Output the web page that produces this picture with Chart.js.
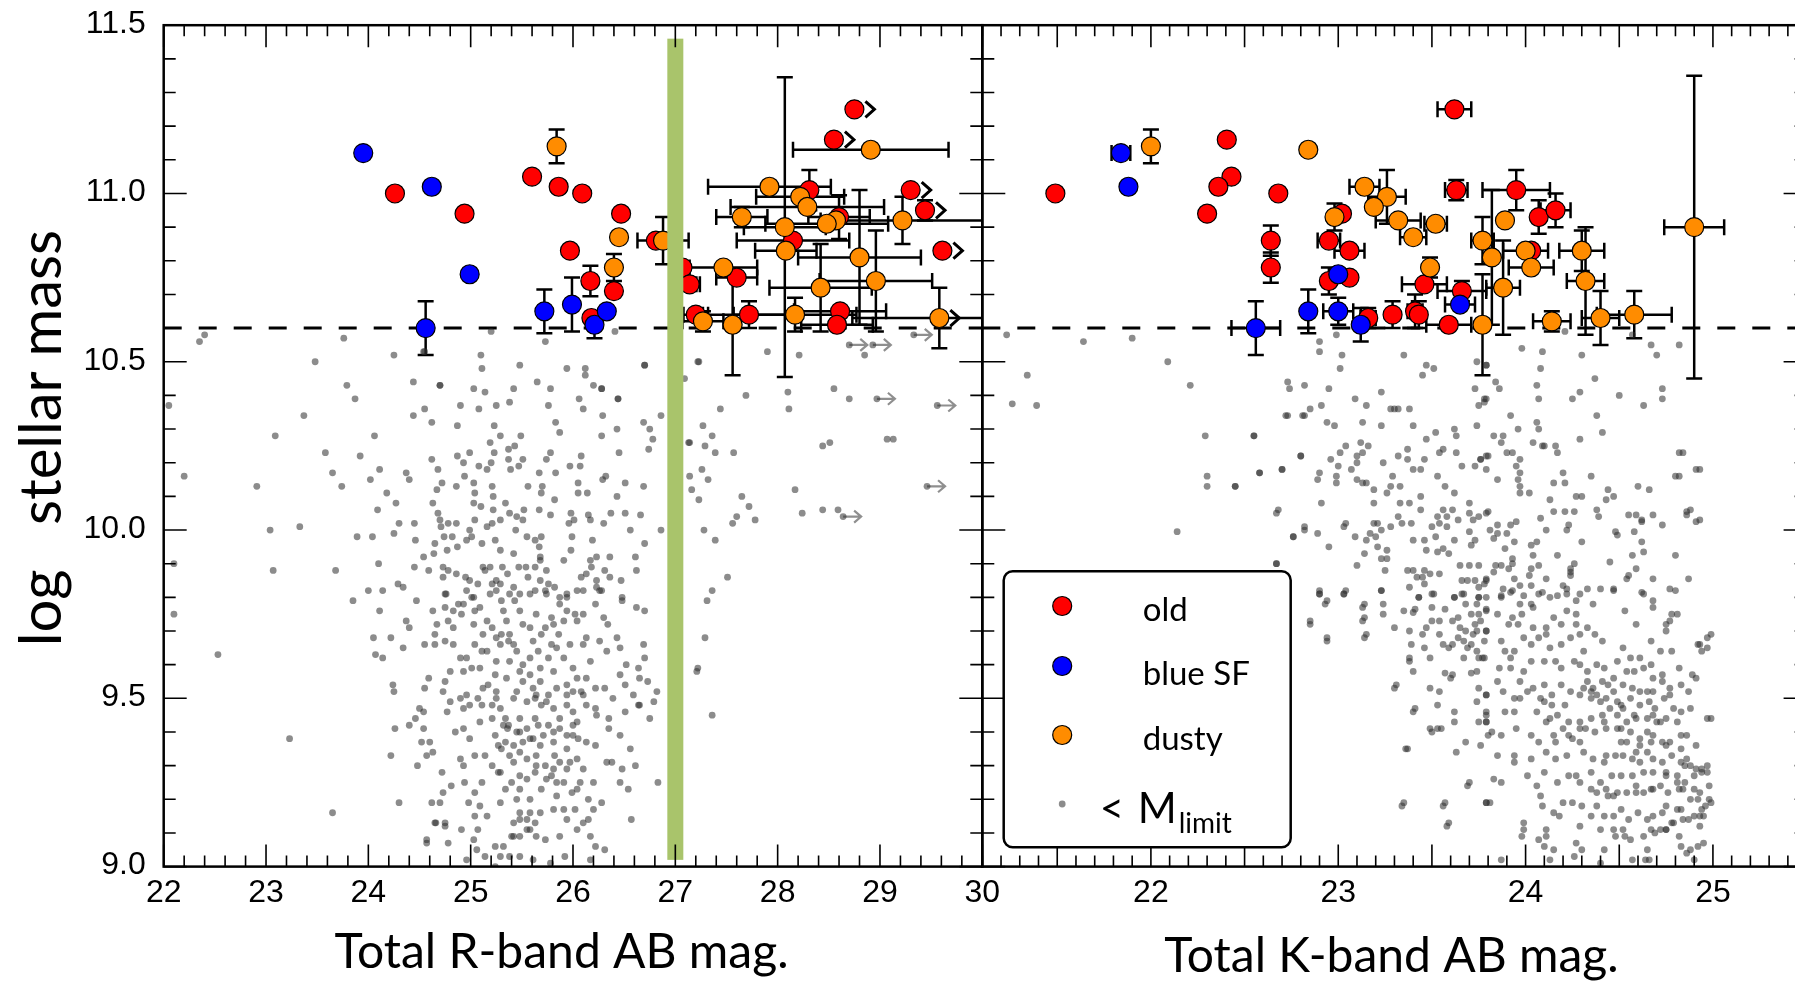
<!DOCTYPE html>
<html>
<head>
<meta charset="utf-8">
<title>stellar mass vs magnitude</title>
<script src="https://cdn.jsdelivr.net/npm/chart.js@4.4.0/dist/chart.umd.min.js"></script>
<style>
  html, body { margin: 0; padding: 0; background: #fff; overflow: hidden; }
  #wrap { position: relative; width: 1795px; height: 983px; overflow: hidden; }
  canvas { position: absolute; left: 0; top: 0; }
</style>
</head>
<body>
<div id="wrap">
  <canvas id="rband" width="1795" height="983" style="width:1795px;height:983px"></canvas>
  <canvas id="kband" width="1830" height="983" style="width:1830px;height:983px"></canvas>
</div>
<script>
// axis ticks / reference lines
const massTicks = [9.0, 9.5, 10.0, 10.5, 11.0, 11.5];
const rTicks = [22, 23, 24, 25, 26, 27, 28, 29, 30];
const kTicks = [22, 23, 24, 25];
const massLimit = 10.6;
const rCut = 27.0;
const legendLabels = ['old', 'blue SF', 'dusty'];

// [mag, logM, magErr, massErr, lowerLimit]
const oldR = [
  [24.26,11.00,0,0,0],[24.94,10.94,0,0,0],[25.60,11.05,0,0,0],[25.86,11.02,0,0.015,0],[26.09,11.00,0,0,0],
  [25.97,10.83,0,0,0],[26.17,10.74,0,0.045,0],[26.18,10.63,0,0,0],[26.40,10.71,0.05,0,0],[26.47,10.94,0,0,0],
  [26.81,10.86,0,0,0],[27.07,10.78,0,0,0],[27.14,10.73,0.1,0.02,0],[27.20,10.64,0.12,0,0],[27.60,10.75,0.2,0,0],
  [27.72,10.64,0.45,0.04,0],[28.15,10.86,0.55,0,0],[28.31,11.01,0,0.06,0],[28.60,10.93,0.3,0.065,0],
  [28.61,10.65,0.45,0,0],[28.58,10.61,0.35,0,0],[28.55,11.16,0,0,1],[28.75,11.25,0,0,1],[29.30,11.01,0,0,1],
  [29.44,10.95,0,0.03,1],[29.61,10.83,0,0,1]
];
const dustyR = [
  [25.84,11.14,0,0.05,0],[26.45,10.87,0,0,0],[26.40,10.78,0.04,0.04,0],[26.88,10.86,0.25,0.07,0],
  [27.47,10.78,0.33,0,0],[27.27,10.62,0.2,0.03,0],[27.56,10.61,0,0.15,0],[28.17,10.64,0.6,0.05,0],
  [29.58,10.63,0.85,0.09,1],[27.92,11.02,0.6,0,0],[28.22,10.99,0.43,0,0],[28.29,10.96,0.75,0,0],
  [28.57,10.92,0,0,0],[28.48,10.91,0.6,0,0],[28.07,10.90,0.4,0.445,0],[27.65,10.93,0.25,0.03,0],
  [28.08,10.83,0.3,0,0],[28.80,10.81,0.6,0.2,0],[28.96,10.74,0.55,0.15,0],[28.42,10.72,0.5,0.13,0],
  [29.22,10.92,0.8,0.07,0],[28.91,11.13,0.76,0,0]
];
const blueR = [
  [23.95,11.12,0,0,0],[24.62,11.02,0,0,0],[24.99,10.76,0,0.01,0],[24.56,10.60,0,0.08,0],
  [25.72,10.65,0,0.065,0],[25.99,10.67,0,0.08,0],[26.21,10.61,0,0.04,0],[26.33,10.65,0,0,0]
];
const oldK = [
  [21.49,11.00,0,0,0],[22.405,11.16,0,0,0],[22.43,11.05,0,0,0],[22.36,11.02,0,0,0],[22.68,11.00,0,0,0],
  [22.30,10.94,0,0,0],[23.62,11.25,0.09,0,0],[22.64,10.86,0,0.045,0],[22.64,10.78,0,0.045,0],
  [23.16,10.63,0.04,0.03,0],[22.95,10.74,0,0.04,0],[23.06,10.75,0,0,0],[22.95,10.86,0.06,0,0],
  [23.06,10.83,0.08,0,0],[23.02,10.94,0,0,0],[23.29,10.64,0,0.04,0],[23.41,10.65,0.04,0.05,0],
  [23.43,10.64,0,0.04,0],[23.46,10.73,0.12,0,0],[23.66,10.71,0.13,0.03,0],[23.59,10.61,0.12,0,0],
  [23.63,11.01,0.06,0.03,0],[23.95,11.01,0.18,0.06,0],[24.07,10.93,0,0.05,0],[24.16,10.95,0.08,0.05,0],
  [24.03,10.83,0,0,0]
];
const dustyK = [
  [22.00,11.14,0,0.05,0],[22.84,11.13,0,0,0],[22.98,10.93,0,0.04,0],[23.14,11.02,0.08,0,0],
  [23.26,10.99,0.1,0.08,0],[23.19,10.96,0,0,0],[23.32,10.92,0.12,0,0],[23.40,10.87,0.07,0,0],
  [23.52,10.91,0.06,0,0],[23.49,10.78,0,0.03,0],[23.77,10.61,0,0.15,0],[23.77,10.86,0.06,0.07,0],
  [23.82,10.81,0,0.2,0],[23.88,10.72,0.09,0.14,0],[23.89,10.92,0,0,0],[24.00,10.83,0.12,0,0],
  [24.03,10.78,0.12,0,0],[24.30,10.83,0.12,0.06,0],[24.32,10.74,0.1,0.16,0],[24.14,10.62,0.1,0.03,0],
  [24.40,10.63,0.1,0.08,0],[24.58,10.64,0.2,0.07,0],[24.90,10.90,0.16,0.45,0]
];
const blueK = [
  [21.84,11.12,0.05,0,0],[21.88,11.02,0,0,0],[22.56,10.60,0.13,0.08,0],[22.84,10.65,0,0.065,0],
  [23.00,10.65,0.08,0.04,0],[23.12,10.61,0,0.05,0],[23.00,10.76,0,0,0],[23.65,10.67,0.08,0,0]
];

// galaxies below the mass limit [mag, logM]
const faintR = [
  [25.10,10.52],[25.11,10.48],[25.48,10.49],[25.94,10.48],[26.12,10.48],[26.12,10.46],[26.70,10.49],[25.73,10.56],[25.20,10.59],[26.41,10.59],
  [24.55,10.53],[24.70,10.43],[25.03,10.42],[25.14,10.41],[25.42,10.42],[25.65,10.44],[25.78,10.42],[26.20,10.43],[26.28,10.42],[24.55,10.36],
  [24.90,10.37],[25.08,10.36],[25.25,10.37],[25.38,10.38],[25.76,10.37],[26.06,10.39],[26.10,10.36],[26.44,10.39],[24.62,10.32],[24.87,10.31],
  [25.23,10.31],[25.83,10.32],[25.87,10.29],[26.29,10.34],[26.43,10.30],[26.69,10.32],[26.75,10.30],[26.86,10.34],[25.29,10.28],[25.49,10.28],
  [25.19,10.26],[25.23,10.23],[25.37,10.24],[25.43,10.25],[26.28,10.28],[26.78,10.27],[26.74,10.24],[26.45,10.23],[24.87,10.22],[24.99,10.23],
  [24.62,10.21],[24.93,10.20],[25.08,10.19],[25.20,10.20],[25.16,10.18],[25.37,10.21],[25.39,10.18],[25.47,10.19],[25.51,10.21],[25.74,10.21],
  [25.78,10.23],[26.08,10.22],[25.97,10.19],[26.07,10.19],[25.83,10.17],[25.67,10.17],[26.29,10.15],[26.32,10.16],[24.68,10.18],[24.86,10.13],
  [24.94,10.16],[25.03,10.14],[25.04,10.11],[25.03,10.08],[25.10,10.07],[25.21,10.13],[25.22,10.10],[25.22,10.06],[25.21,10.02],[24.72,10.14],
  [24.67,10.12],[24.63,10.08],[24.68,10.05],[24.70,10.03],[24.71,10.01],[24.78,10.02],[24.86,10.02],[25.38,10.05],[25.45,10.04],[25.44,10.00],
  [25.51,10.03],[25.56,10.13],[25.70,10.13],[25.69,10.11],[25.82,10.09],[26.05,10.14],[26.05,10.11],[26.14,10.11],[26.43,10.10],[26.51,10.14],
  [26.69,10.13],[25.67,10.06],[25.78,10.045],[25.98,10.05],[26.01,10.03],[25.96,10.02],[26.15,10.045],[26.17,10.03],[26.37,10.05],[26.51,10.05],
  [26.66,10.045],[26.30,10.02],[26.56,10.00],[26.86,10.00],[25.34,10.08],[25.52,10.06],[24.99,10.00],[25.04,10.03],[25.16,10.01],[25.29,10.03],
  [24.74,9.98],[24.82,9.98],[24.96,9.97],[25.01,9.98],[24.87,9.95],[24.77,9.94],[24.64,9.93],[24.54,9.92],[24.65,9.96],[25.11,9.96],
  [25.24,9.97],[25.29,9.94],[25.42,9.93],[25.55,9.98],[25.63,9.97],[25.69,9.98],[25.67,9.95],[25.99,9.98],[25.98,9.94],[26.19,9.97],
  [26.70,9.96],[26.23,9.92],[26.36,9.92],[26.17,9.91],[26.61,9.92],[26.62,9.88],[24.73,9.89],[24.78,9.88],[24.59,9.88],[24.86,9.87],
  [24.73,9.86],[24.95,9.86],[24.99,9.85],[25.07,9.84],[25.12,9.89],[25.19,9.89],[25.14,9.88],[25.31,9.89],[25.36,9.87],[25.47,9.89],
  [25.54,9.89],[25.63,9.89],[25.74,9.88],[25.68,9.92],[25.68,9.91],[25.91,9.91],[25.25,9.85],[25.21,9.84],[25.29,9.84],[25.42,9.83],
  [25.56,9.86],[25.68,9.85],[25.76,9.84],[25.82,9.83],[25.94,9.80],[26.04,9.82],[26.08,9.86],[26.13,9.87],[26.18,9.89],[26.23,9.85],
  [26.23,9.83],[26.28,9.82],[26.31,9.88],[26.36,9.86],[26.47,9.85],[26.48,9.80],[24.76,9.81],[24.96,9.82],[25.03,9.80],[25.25,9.82],
  [25.38,9.81],[25.48,9.81],[25.63,9.82],[25.74,9.81],[25.87,9.80],
  [24.75,9.81],[24.88,9.78],[25.01,9.80],[25.09,9.77],[25.19,9.81],[25.30,9.79],[25.43,9.79],[25.58,9.81],[25.73,9.82],[25.87,9.78],
  [25.94,9.81],[26.10,9.82],[26.22,9.78],[26.26,9.82],[26.48,9.79],[26.62,9.77],[26.70,9.76],[24.63,9.76],[24.75,9.77],[25.04,9.76],
  [24.67,9.72],[24.78,9.73],[24.83,9.71],[24.91,9.75],[25.03,9.72],[25.16,9.73],[25.21,9.71],[25.35,9.73],[25.38,9.69],[25.51,9.72],
  [25.58,9.71],[25.64,9.75],[25.73,9.71],[25.81,9.72],[25.91,9.73],[25.94,9.76],[26.02,9.75],[26.10,9.75],[26.30,9.74],[26.34,9.72],
  [24.65,9.69],[25.12,9.69],[25.30,9.69],[25.69,9.69],[25.86,9.69],
  [24.55,9.66],[24.65,9.66],[24.75,9.67],[24.83,9.66],[24.90,9.62],[24.96,9.62],[25.04,9.66],[25.11,9.64],[25.16,9.64],[25.29,9.66],
  [25.37,9.67],[25.45,9.64],[25.51,9.60],[25.58,9.62],[25.66,9.64],[25.68,9.59],[25.76,9.62],[25.84,9.65],[25.91,9.62],[26.00,9.59],
  [26.10,9.66],[26.17,9.61],[26.13,9.68],[26.26,9.67],[26.33,9.64],[26.43,9.68],[26.46,9.65],[26.52,9.60],[26.64,9.59],[26.69,9.66],
  [26.70,9.62],[26.46,9.57],[26.51,9.54],[26.65,9.56],[26.73,9.55],[26.82,9.52],[24.80,9.58],[24.93,9.58],[25.09,9.59],[25.25,9.61],
  [25.38,9.61],[25.48,9.58],[24.59,9.56],[24.75,9.55],[25.01,9.59],
  [24.55,9.53],[24.73,9.52],[24.90,9.50],[24.96,9.51],[25.07,9.50],[25.17,9.54],[25.12,9.53],[25.25,9.52],[25.35,9.56],[25.45,9.52],
  [25.51,9.55],[25.61,9.53],[25.68,9.55],[25.76,9.51],[25.84,9.53],[25.94,9.54],[26.00,9.52],[26.10,9.51],[26.13,9.56],[26.22,9.53],
  [26.31,9.53],[26.39,9.50],[26.59,9.51],[26.64,9.48],[26.79,9.49],[24.50,9.47],[24.54,9.46],[24.77,9.46],[24.80,9.49],[24.93,9.47],
  [24.99,9.48],[25.11,9.48],[25.21,9.48],[25.29,9.47],[25.42,9.50],[25.55,9.49],[25.63,9.50],[25.69,9.48],[25.74,9.49],[25.81,9.47],
  [25.94,9.48],[26.00,9.46],[26.08,9.52],[26.13,9.48],[26.22,9.47],[26.35,9.44],[26.51,9.46],[26.65,9.48],[26.75,9.44],
  [24.54,9.41],[24.60,9.37],[24.63,9.34],[24.85,9.40],[24.93,9.41],[24.99,9.38],[25.09,9.43],[25.21,9.44],[25.24,9.39],[25.32,9.42],
  [25.36,9.41],[25.34,9.37],[25.42,9.36],[25.48,9.40],[25.55,9.41],[25.58,9.38],[25.66,9.42],[25.71,9.39],[25.76,9.42],[25.81,9.37],
  [25.87,9.41],[25.94,9.39],[26.00,9.42],[26.05,9.38],[26.13,9.37],[26.22,9.36],[26.23,9.45],[26.35,9.41],[26.46,9.39],[26.56,9.35],
  [24.57,9.33],[24.72,9.28],[24.90,9.32],[24.93,9.30],[25.04,9.33],[25.14,9.33],[25.21,9.30],[25.30,9.35],[25.38,9.33],[25.48,9.34],
  [25.55,9.32],[25.64,9.33],[25.73,9.30],[25.82,9.33],[25.87,9.31],[25.94,9.29],[26.04,9.32],[26.10,9.29],[26.33,9.31],[26.38,9.31],
  [26.48,9.29],[26.61,9.30],
  [24.73,9.22],[24.81,9.24],[24.94,9.25],[25.04,9.22],[25.11,9.25],[25.27,9.28],[25.34,9.23],[25.40,9.25],[25.48,9.23],[25.55,9.26],
  [25.63,9.28],[25.69,9.23],[25.79,9.27],[25.84,9.25],[25.99,9.22],[26.07,9.25],[26.20,9.25],[26.28,9.19],[26.46,9.25],[26.54,9.23],
  [26.83,9.25],[24.62,9.19],[24.70,9.19],[24.98,9.19],[25.09,9.18],[25.29,9.19],[25.48,9.16],[25.58,9.16],[25.68,9.16],[25.81,9.17],
  [25.91,9.17],[26.02,9.17],[26.15,9.20],[26.20,9.17],[25.04,9.15],[25.16,9.15],[25.42,9.13],[25.55,9.14],[25.63,9.13],[25.94,9.14],
  [26.10,9.13],[26.15,9.14],[26.57,9.14],[24.65,9.13],[24.75,9.12],
  [24.57,9.07],[24.78,9.07],[24.91,9.11],[25.03,9.08],[25.07,9.11],[25.24,9.06],[25.32,9.06],[25.40,9.09],[25.48,9.09],[25.55,9.11],
  [25.64,9.09],[25.73,9.08],[25.87,9.09],[26.04,9.11],[26.17,9.09],[26.22,9.06],[26.31,9.05],[25.14,9.03],[25.29,9.03],[25.38,9.03],
  [25.48,9.03],[25.61,9.02],[25.78,9.01],[25.92,9.03],[26.17,9.02],[25.06,9.05],[24.96,9.02],[25.24,9.00],
  [24.93,9.78],[24.83,9.76],[25.32,9.76],[25.48,9.76],[25.79,9.74],[26.04,9.73],[25.25,9.68],[25.42,9.66],[25.61,9.67],[25.79,9.66],
  [25.97,9.66],[25.24,9.57],[25.58,9.57],[25.81,9.58],[26.04,9.56],[25.64,9.51],[25.94,9.51],[25.25,9.50],[25.34,9.44],[25.48,9.44],
  [25.63,9.44],[25.87,9.44],[26.04,9.43],[25.37,9.42],[25.45,9.40],[25.61,9.38],[25.81,9.40],[26.00,9.39],[25.27,9.36],[25.51,9.37],
  [25.68,9.36],[25.94,9.35],[25.42,9.31],[25.64,9.30],[25.81,9.29],[25.97,9.31],[25.29,9.28],[25.48,9.27],[25.74,9.26],[25.91,9.25],
  [26.04,9.23],[25.45,9.20],[25.58,9.20],[25.84,9.21],[25.48,9.14],[25.58,9.11],[25.42,9.09],
  [22.05,10.37],[22.20,10.16],[22.10,9.90],[22.10,9.75],[22.53,9.63],[22.91,10.13],[23.09,10.28],[23.04,10.00],[23.07,9.88],[23.23,9.38],
  [23.33,10.01],[23.37,10.34],[23.58,10.23],[23.65,10.17],[23.74,10.13],[23.68,9.88],[23.65,9.16],[23.85,9.79],[23.92,10.22],[23.89,9.98],
  [24.02,10.15],[24.06,10.28],[24.11,10.18],[24.09,10.06],[24.04,9.98],[24.00,9.82],[24.11,9.76],[24.10,9.90],[24.05,9.68],[24.07,9.63],
  [24.14,9.62],[24.14,9.82],[24.18,10.11],[24.22,9.68],[24.24,9.54],[24.25,9.52],[24.26,9.41],[24.22,9.33],[24.30,9.19],[24.27,10.08],
  [24.25,9.99],[24.30,10.02],[24.29,9.84],[24.34,9.83],[24.37,9.73],[24.34,9.65],[24.40,9.71],[24.40,10.15],[24.37,10.17],[24.44,10.34],
  [24.45,10.02],[24.46,9.97],[24.45,9.89],[24.47,9.79],[24.40,9.42],[24.46,9.44],[24.48,9.30],[24.52,9.37],[24.57,9.08],[24.66,9.13],
  [24.75,9.13],[22.35,10.56],[22.40,10.58],[23.76,10.57],[23.48,10.50],[24.25,10.52],[23.79,10.43],[24.44,10.44],[24.70,10.43],[23.87,10.39],
  [24.54,10.53],
  [27.09,10.45],[27.14,10.26],[27.14,10.16],[27.16,10.12],[27.22,10.50],[27.21,9.58],
  [27.27,10.31],[27.36,10.28],[27.29,10.25],[27.39,10.23],[27.13,10.26],[27.57,10.23],[27.44,10.36],[27.26,10.18],[27.32,10.15],[27.23,10.09],
  [27.65,10.10],[27.72,10.07],[27.60,10.04],[27.56,10.02],[27.78,10.03],[27.28,10.00],[27.39,9.97],[27.51,9.86],[27.36,9.82],[27.31,9.79],
  [27.29,9.68],[27.22,9.59],[27.36,9.45],[28.11,10.36],[28.17,10.12],[28.24,10.05],[28.44,10.06],[28.44,10.25],[28.51,10.26],[29.07,10.27],
  [29.13,10.27],[28.70,10.39],[28.59,10.06],[26.70,10.49],[27.23,10.50],[27.90,10.53],[28.21,10.52],[28.85,10.52],[27.69,10.40],[28.10,10.41],
  [28.55,10.42],[26.28,10.42],[26.44,10.39]
];
const faintRLimits = [[28.70,10.55],[28.93,10.55],[29.33,10.58],[28.97,10.39],[29.56,10.37],[29.46,10.13],[28.64,10.04]];

const faintK = [
  [22.99,10.58],[22.90,10.56],[22.90,10.53],[23.02,10.52],[23.01,10.48],[23.35,10.52],[23.47,10.49],[23.51,10.48],[23.45,10.46],[23.74,10.50],
  [23.79,10.49],[22.73,10.44],[22.74,10.42],[22.82,10.43],[22.95,10.42],[23.23,10.41],[23.09,10.39],[23.15,10.37],[23.30,10.36],[23.32,10.36],
  [23.28,10.36],[23.38,10.36],[23.73,10.42],[23.79,10.39],[23.75,10.37],[22.85,10.36],[22.91,10.37],[22.72,10.34],[22.81,10.34],[22.94,10.32],
  [22.98,10.31],[23.13,10.32],[23.23,10.31],[23.40,10.31],[23.62,10.30],[23.63,10.28],[23.52,10.29],[23.74,10.31],[23.47,10.27],[22.55,10.28],
  [23.04,10.25],[23.12,10.26],[23.16,10.25],[23.01,10.23],[23.13,10.23],[23.10,10.22],[23.10,10.20],[22.96,10.21],[22.80,10.22],[23.00,10.19],
  [23.07,10.18],[23.24,10.20],[23.32,10.22],[23.37,10.24],[23.37,10.21],[23.40,10.18],[23.44,10.18],[23.46,10.21],[23.54,10.23],[23.56,10.24],
  [23.63,10.23],[23.66,10.19],[23.73,10.19],[23.76,10.21],[23.79,10.22],[22.58,10.17],[22.70,10.18],[22.45,10.13],[22.90,10.17],[22.89,10.15],
  [22.99,10.16],[22.99,10.14],[23.10,10.15],[23.13,10.14],[23.15,10.14],[23.19,10.12],[23.26,10.11],[23.29,10.16],[23.28,10.13],[23.33,10.13],
  [23.53,10.16],[23.57,10.13],[23.62,10.11],[23.61,10.06],[23.44,10.10],[23.44,10.06],[23.33,10.08],[23.38,10.08],[23.19,10.08],[22.91,10.08],
  [22.67,10.05],[23.19,10.02],[23.21,10.02],[23.23,10.00],[23.28,10.01],[23.32,10.04],[23.34,10.02],[23.39,10.02],[23.50,10.01],[23.54,10.02],
  [23.53,10.04],[23.56,10.06],[23.58,10.04],[23.58,10.01],[23.64,10.03],[23.70,10.08],[23.70,10.05],[23.75,10.04],[23.72,10.03],[23.79,10.05],
  [23.70,9.995],[22.82,10.00],[23.03,10.01],[22.76,9.98],[22.89,9.99],[22.95,9.95],[23.09,9.98],[23.17,9.99],[23.15,9.97],[23.20,9.98],
  [23.21,9.95],[23.26,9.94],[23.40,9.97],[23.46,9.97],[23.47,9.94],[23.52,9.98],[23.53,9.935],[23.56,9.945],[23.59,9.93],[23.62,9.97],
  [23.71,9.955],[23.73,9.97],[23.14,9.93],[23.23,9.915],[23.26,9.915],[22.67,9.90],[23.10,9.895],[23.25,9.88],[23.37,9.88],[23.40,9.88],
  [23.42,9.86],[23.45,9.86],[23.46,9.88],[23.49,9.87],[23.46,9.84],[23.54,9.87],[23.65,9.895],[23.70,9.895],[23.75,9.895],[23.66,9.85],
  [23.69,9.85],[23.73,9.85],[23.75,9.83],[23.79,9.85],[23.38,9.83],[23.23,9.82],[22.90,9.81],[23.03,9.81],[23.43,9.80],[23.51,9.81],
  [23.62,9.80],[23.67,9.81],[23.75,9.80],
  [24.21,10.59],[23.98,10.54],[24.09,10.53],[24.30,10.52],[24.67,10.55],[24.70,10.52],[24.82,10.55],[24.57,10.58],[23.79,10.49],[24.08,10.48],
  [23.84,10.44],[23.86,10.42],[24.06,10.43],[24.37,10.45],[24.29,10.41],[24.25,10.39],[24.07,10.39],[24.50,10.40],[24.73,10.42],[24.73,10.39],
  [24.63,10.37],[23.78,10.39],[23.78,10.38],[23.92,10.34],[24.38,10.34],[23.96,10.30],[24.06,10.32],[24.07,10.30],[24.41,10.29],[24.29,10.27],
  [23.83,10.28],[23.88,10.28],[23.87,10.26],[24.04,10.26],[24.09,10.25],[24.10,10.25],[24.16,10.25],[24.17,10.23],[23.90,10.23],[23.93,10.23],
  [23.80,10.22],[24.82,10.23],[23.76,10.21],[23.97,10.21],[23.95,10.19],[23.79,10.18],[24.91,10.18],[23.97,10.17],[24.20,10.17],[24.35,10.16],
  [24.80,10.16],[23.85,10.15],[23.96,10.15],[24.15,10.14],[24.21,10.14],[23.97,10.13],[23.97,10.11],[24.02,10.11],[24.60,10.13],[24.66,10.12],
  [24.44,10.12],[24.47,10.10],[24.43,10.09],[24.27,10.10],[24.30,10.10],[24.13,10.09],[24.38,10.06],[24.39,10.04],[23.80,10.055],[24.15,10.055],
  [24.21,10.055],[24.26,10.055],[24.55,10.045],[24.59,10.045],[24.62,10.03],[24.62,10.025],[24.68,10.045],[24.73,10.015],[24.86,10.055],[24.86,10.045],
  [24.91,10.025],[24.08,10.035],[24.11,10.00],[23.95,10.025],[23.92,10.015],[23.90,9.99],[23.85,10.015],[23.81,10.00],[23.85,9.99],[23.83,9.975],
  [23.94,9.965],[23.89,9.945],[24.06,9.965],[24.03,9.955],[24.23,10.015],[24.22,10.00],[24.48,9.995],[24.49,9.985],[24.58,9.995],[24.30,9.965],
  [24.62,9.965],[24.63,9.935],[24.57,9.925],[24.80,9.925],[24.17,9.925],[24.04,9.925],[23.93,9.915],[23.93,9.90],[24.07,9.895],[24.03,9.885],
  [24.26,9.90],[24.24,9.885],[24.24,9.875],[24.24,9.865],[24.45,9.905],[24.59,9.885],[23.84,9.895],[23.87,9.895],[23.91,9.885],[23.83,9.875],
  [23.79,9.855],[23.78,9.84],[24.02,9.865],[23.94,9.855],[23.97,9.835],[24.03,9.835],[24.11,9.855],[24.20,9.835],[24.22,9.825],[24.33,9.825],
  [24.40,9.825],[24.47,9.825],[24.54,9.855],[24.55,9.865],[24.68,9.855],[24.62,9.815],[24.77,9.825],[24.87,9.855],[23.88,9.825],[23.92,9.815],
  [23.87,9.805],[23.99,9.805],[24.09,9.815],[24.17,9.805],
  [22.90,9.81],[23.03,9.81],[23.23,9.82],[22.93,9.78],[22.85,9.72],[22.94,9.67],[23.13,9.77],[23.13,9.73],[23.14,9.68],[23.24,9.78],
  [23.24,9.75],[23.30,9.71],[23.35,9.76],[23.40,9.755],[23.41,9.765],[23.43,9.80],[23.50,9.81],[23.50,9.77],[23.57,9.765],[23.62,9.80],
  [23.66,9.81],[23.68,9.78],[23.75,9.80],[23.74,9.78],[23.71,9.75],[23.75,9.75],[23.79,9.765],[23.38,9.70],[23.45,9.69],[23.47,9.71],
  [23.50,9.73],[23.54,9.73],[23.54,9.69],[23.61,9.73],[23.64,9.74],[23.65,9.71],[23.68,9.70],[23.73,9.72],[23.72,9.69],[23.74,9.70],
  [23.79,9.70],[23.39,9.66],[23.46,9.65],[23.56,9.66],[23.59,9.65],[23.61,9.66],[23.64,9.68],[23.67,9.67],[23.69,9.65],[23.71,9.66],
  [23.74,9.64],[23.78,9.67],[23.75,9.62],[23.77,9.62],[23.38,9.62],[23.38,9.61],[23.49,9.62],[23.67,9.62],[23.40,9.58],[23.57,9.575],
  [23.61,9.57],[23.60,9.56],[23.71,9.575],[23.74,9.58],[23.30,9.53],[23.49,9.53],[23.54,9.52],[23.53,9.48],[23.40,9.46],[23.75,9.53],
  [23.79,9.51],[23.74,9.49],[23.79,9.45],[23.75,9.43],[23.79,9.43],[23.80,9.39],[23.62,9.46],[23.62,9.43],[23.50,9.40],[23.53,9.41],
  [23.68,9.37],[23.76,9.36],[23.63,9.34],[23.36,9.35],[23.69,9.24],[23.79,9.19],[23.34,9.18],[23.56,9.18],[23.58,9.12],
  [23.79,9.80],[23.87,9.80],[23.93,9.82],[23.97,9.78],[24.03,9.78],[24.07,9.81],[24.13,9.80],[24.22,9.81],[24.27,9.79],[24.29,9.81],
  [24.36,9.78],[24.47,9.82],[24.53,9.76],[24.63,9.81],[24.68,9.77],[24.68,9.79],[24.78,9.75],[23.79,9.76],[23.85,9.75],[23.93,9.74],
  [23.98,9.75],[24.04,9.77],[24.15,9.74],[24.22,9.76],[24.27,9.75],[24.59,9.72],[24.75,9.72],[24.75,9.70],[23.91,9.72],[23.96,9.72],
  [24.04,9.71],[24.11,9.71],[24.19,9.72],[24.27,9.72],[24.33,9.71],[24.37,9.69],[23.76,9.73],
  [23.79,9.70],[23.87,9.67],[23.89,9.64],[23.94,9.64],[23.99,9.68],[24.03,9.66],[24.07,9.68],[24.11,9.69],[24.13,9.65],[24.19,9.66],
  [24.24,9.68],[24.29,9.69],[24.31,9.64],[24.41,9.67],[24.49,9.61],[24.52,9.65],[24.56,9.62],[24.61,9.62],[24.67,9.67],[24.72,9.64],
  [24.78,9.64],[24.92,9.66],[24.94,9.64],[24.97,9.68],[23.78,9.62],[23.86,9.59],[23.92,9.59],[23.99,9.58],[24.03,9.61],[24.10,9.61],
  [24.16,9.61],[24.26,9.61],[24.29,9.60],[24.38,9.60],[24.42,9.59],[24.58,9.58],[24.63,9.59],[24.67,9.60],[24.73,9.57],[24.82,9.59],
  [24.91,9.56],[23.79,9.51],
  [23.85,9.55],[23.88,9.52],[23.94,9.50],[23.97,9.50],[24.04,9.53],[24.10,9.54],[24.14,9.51],[24.19,9.54],[24.24,9.52],[24.21,9.48],
  [24.14,9.48],[24.08,9.50],[24.33,9.55],[24.36,9.53],[24.41,9.55],[24.44,9.54],[24.47,9.52],[24.52,9.54],[24.57,9.53],[24.61,9.52],
  [24.65,9.52],[24.68,9.52],[24.73,9.55],[24.77,9.51],[24.83,9.54],[24.87,9.52],[24.29,9.51],[24.35,9.50],[24.40,9.49],[24.45,9.47],
  [24.51,9.48],[24.56,9.50],[24.61,9.48],[24.66,9.49],[24.69,9.47],[24.74,9.50],[24.79,9.47],[24.83,9.46],[23.79,9.46],[23.89,9.46],
  [23.94,9.46],[24.06,9.46],[24.11,9.43],[24.17,9.45],[24.23,9.43],[24.29,9.43],[24.35,9.44],[24.41,9.45],[24.49,9.45],[24.54,9.43],
  [24.59,9.44],[24.65,9.44],[24.70,9.43],[24.75,9.44],[24.81,9.43],[24.88,9.47],[24.97,9.44],[23.79,9.43],[23.82,9.40],
  [23.87,9.39],[23.95,9.41],[24.03,9.39],[24.07,9.37],[24.15,9.39],[24.16,9.37],[24.23,9.39],[24.25,9.38],[24.29,9.37],[24.32,9.41],
  [24.37,9.40],[24.43,9.41],[24.49,9.41],[24.51,9.37],[24.54,9.37],[24.59,9.34],[24.61,9.38],[24.65,9.40],[24.68,9.39],[24.73,9.37],
  [24.77,9.37],[24.83,9.39],[24.86,9.39],[24.91,9.36],[23.85,9.33],[23.94,9.33],[23.94,9.31],[24.03,9.32],[24.11,9.34],[24.16,9.32],
  [24.22,9.33],[24.31,9.34],[24.36,9.32],[24.42,9.31],[24.43,9.33],[24.48,9.33],[24.52,9.33],[24.57,9.32],[24.61,9.31],[24.65,9.34],
  [24.68,9.32],[24.73,9.31],[24.78,9.33],[24.83,9.31],[24.88,9.30],[24.97,9.30],[23.83,9.26],[23.87,9.25],[24.01,9.27],[24.10,9.28],
  [24.17,9.25],[24.23,9.27],[24.27,9.27],[24.29,9.25],[24.35,9.28],[24.40,9.25],[24.46,9.27],[24.51,9.27],[24.57,9.27],[24.63,9.28],
  [24.68,9.28],[24.75,9.28],[24.81,9.27],[24.85,9.30],[24.90,9.27],[24.94,9.28],[24.97,9.28],
  [23.79,9.19],[23.81,9.19],[24.06,9.24],[24.08,9.21],[24.09,9.18],[24.15,9.16],[24.20,9.19],[24.25,9.19],[24.30,9.18],[24.35,9.23],
  [24.38,9.22],[24.43,9.23],[24.44,9.21],[24.49,9.22],[24.54,9.22],[24.59,9.24],[24.63,9.22],[24.67,9.23],[24.72,9.24],[24.76,9.22],
  [24.82,9.23],[24.85,9.25],[24.88,9.20],[24.92,9.20],[24.94,9.17],[24.96,9.18],[24.18,9.15],[24.29,9.12],[24.35,9.15],[24.42,9.15],
  [24.47,9.15],[24.51,9.17],[24.55,9.14],[24.60,9.16],[24.65,9.14],[24.68,9.15],[24.73,9.16],[24.78,9.13],[24.81,9.17],[24.84,9.14],
  [24.87,9.14],[24.93,9.15],[24.93,9.12],[24.72,9.11],[24.75,9.11],[24.52,9.11],[24.40,9.11],
  [23.99,9.13],[23.99,9.11],[23.98,9.09],[24.07,9.08],[24.11,9.11],[24.11,9.09],[24.10,9.06],[24.15,9.05],[24.13,9.02],[24.27,9.07],
  [24.30,9.05],[24.42,9.05],[24.47,9.11],[24.48,9.09],[24.53,9.09],[24.56,9.08],[24.63,9.09],[24.67,9.11],[24.65,9.05],[24.69,9.10],
  [24.75,9.11],[24.79,9.13],[24.82,9.09],[24.83,9.06],[24.86,9.04],[24.90,9.02],[24.92,9.06],[24.57,9.02],[24.64,9.02],[24.40,9.01],
  [24.26,9.03],[23.87,9.02],
  [24.31,9.53],[24.35,9.52],[24.38,9.51],[24.43,9.50],[24.49,9.49],[24.52,9.47],[24.58,9.45],[24.68,9.45],[24.72,9.43],[24.42,9.43],
  [24.51,9.41],[24.56,9.40],[24.61,9.36],[24.67,9.37],[24.75,9.36],[24.83,9.35],[24.86,9.32],[24.91,9.29],[24.75,9.27],[24.81,9.25],
  [24.84,9.23],[24.90,9.23],[24.93,9.22],[24.68,9.23],[24.59,9.22],[24.47,9.21],[24.38,9.18],[24.75,9.18],[24.83,9.17],[24.90,9.15],
  [24.29,9.41],[24.20,9.41],[24.13,9.44],[24.10,9.49],[24.01,9.52],[23.97,9.55],[23.92,9.62],[24.19,9.59],[24.33,9.58],[24.47,9.56],
  [24.54,9.58],[24.68,9.56],[24.77,9.53],
  [21.23,10.58],[21.64,10.56],[21.90,10.57],[22.09,10.50],[21.34,10.46],[22.21,10.43],[21.26,10.375],[21.39,10.37],[22.14,9.995],
  [22.29,10.28],[22.30,10.16],[22.30,10.13],[22.45,10.13],[22.55,10.28],[22.58,10.17],[22.68,10.06],[22.67,9.90],[22.70,10.18],[22.73,10.34],
  [22.76,9.98],[22.80,10.22],[22.82,10.34],[22.82,10.01],[22.85,9.73],[22.90,9.82],[22.94,9.79],[22.94,9.68],[23.04,9.82],[23.04,10.02],
  [23.15,9.69],[23.14,9.78],[23.14,9.74],[23.31,9.54],[23.35,9.19],[23.37,9.35],[23.41,9.47],[23.55,9.41],[23.49,9.41],[23.59,9.13],
  [23.70,9.25],[23.57,9.19],
  [24.82,10.16],[24.84,10.23],[24.93,10.18],[24.93,10.03],[24.88,10.06],[24.80,9.82],[24.81,9.75],[24.77,9.73],[24.93,9.66],[24.97,9.65],
  [24.99,9.69],[24.89,9.57],[24.99,9.44],[24.94,9.29],[24.98,9.24],[24.98,9.20],[24.99,9.19],[24.95,9.15],[24.95,9.07],[24.88,9.05],
  [24.66,9.02]
];

const colours = { old: '#ff0000', blue: '#0000ff', dusty: '#ff8c00', faint: 'rgba(45,45,45,0.55)' };
const textFont = 'Lato, "Open Sans", sans-serif';
const tickFont = '32px "Liberation Sans", Arial, sans-serif';

const pts = rows => rows.map(p => ({ x: p[0], y: p[1] }));

function bigSet(rows, colour) {
  return {
    data: pts(rows),
    pointRadius: 9.5,
    pointBackgroundColor: colour,
    pointBorderColor: '#000',
    pointBorderWidth: 1.2,
    backgroundColor: colour,
    borderColor: '#000'
  };
}

function faintSet(rows) {
  return {
    data: pts(rows),
    pointRadius: 3.4,
    pointBackgroundColor: colours.faint,
    pointBorderWidth: 0,
    backgroundColor: colours.faint
  };
}

function dot(ctx, x, y, r, fill, lw) {
  ctx.beginPath();
  ctx.arc(x, y, r, 0, Math.PI * 2);
  ctx.fillStyle = fill;
  ctx.fill();
  if (lw) { ctx.lineWidth = lw; ctx.strokeStyle = '#000'; ctx.stroke(); }
}

function makePanel(cfg) {
  return {
    id: 'panel' + cfg.name,
    beforeDatasetsDraw(chart) {
      const { ctx, chartArea: a } = chart;
      const xs = chart.scales.x, ys = chart.scales.y;
      ctx.save();
      ctx.beginPath();
      ctx.rect(a.left, a.top, a.right - a.left, a.bottom - a.top);
      ctx.clip();

      // mass limit line
      const yl = ys.getPixelForValue(massLimit);
      ctx.strokeStyle = '#000';
      ctx.lineWidth = 3;
      ctx.setLineDash([18, 17]);
      ctx.beginPath();
      ctx.moveTo(a.left, yl);
      ctx.lineTo(a.right, yl);
      ctx.stroke();
      ctx.setLineDash([]);

      // grey lower limits
      ctx.strokeStyle = '#8f8f8f';
      ctx.lineWidth = 2.2;
      cfg.faintLimits.forEach(p => {
        const px = xs.getPixelForValue(p[0]), py = ys.getPixelForValue(p[1]);
        ctx.beginPath();
        ctx.moveTo(px, py); ctx.lineTo(px + 18, py);
        ctx.moveTo(px + 11, py - 6); ctx.lineTo(px + 18, py); ctx.lineTo(px + 11, py + 6);
        ctx.stroke();
      });

      // error bars and limits of the massive galaxies
      ctx.strokeStyle = '#000';
      cfg.groups.forEach(rows => rows.forEach(p => {
        const [m, s, dm, dsErr, lim] = p;
        const px = xs.getPixelForValue(m), py = ys.getPixelForValue(s);
        ctx.lineWidth = 2.5;
        ctx.beginPath();
        if (dsErr > 0) {
          const y1 = ys.getPixelForValue(s + dsErr), y2 = ys.getPixelForValue(s - dsErr);
          ctx.moveTo(px, y1); ctx.lineTo(px, y2);
          ctx.moveTo(px - 8, y1); ctx.lineTo(px + 8, y1);
          ctx.moveTo(px - 8, y2); ctx.lineTo(px + 8, y2);
        }
        if (dm > 0) {
          const x1 = xs.getPixelForValue(m - dm), x2 = xs.getPixelForValue(m + dm);
          ctx.moveTo(x1, py); ctx.lineTo(x2, py);
          ctx.moveTo(x1, py - 8); ctx.lineTo(x1, py + 8);
          ctx.moveTo(x2, py - 8); ctx.lineTo(x2, py + 8);
        }
        ctx.stroke();
        if (lim) {
          ctx.lineWidth = 3;
          ctx.beginPath();
          ctx.moveTo(px + 11, py - 8); ctx.lineTo(px + 20, py); ctx.lineTo(px + 11, py + 8);
          ctx.stroke();
        }
      }));
      ctx.restore();
    },
    afterDatasetsDraw(chart) {
      const { ctx, chartArea: a } = chart;
      const xs = chart.scales.x, ys = chart.scales.y;
      ctx.save();

      // R-band depth marker
      if (cfg.band) {
        const bx = xs.getPixelForValue(rCut);
        const bt = ys.getPixelForValue(11.46), bb = ys.getPixelForValue(9.02);
        ctx.fillStyle = 'rgb(169,196,107)';
        ctx.fillRect(bx - 8, bt, 16, bb - bt);
      }

      // frame
      ctx.strokeStyle = '#000';
      ctx.lineWidth = 2.5;
      ctx.strokeRect(a.left, a.top, a.right - a.left, a.bottom - a.top);

      // ticks
      ctx.lineWidth = 1.6;
      ctx.beginPath();
      const nx = Math.round((cfg.xHi - cfg.xLo) / cfg.minor);
      for (let i = 0; i <= nx; i++) {
        const v = cfg.xLo + i * cfg.minor;
        const major = Math.abs(v / cfg.major - Math.round(v / cfg.major)) < 1e-6;
        const len = major ? 22 : 11;
        const px = xs.getPixelForValue(v);
        ctx.moveTo(px, a.bottom); ctx.lineTo(px, a.bottom - len);
        ctx.moveTo(px, a.top); ctx.lineTo(px, a.top + len);
      }
      for (let i = 0; i <= 25; i++) {
        const v = 9 + i * 0.1;
        const len = i % 5 === 0 ? 23 : 12;
        const py = ys.getPixelForValue(v);
        ctx.moveTo(a.left, py); ctx.lineTo(a.left + len, py);
        ctx.moveTo(a.right, py); ctx.lineTo(a.right - len, py);
      }
      ctx.stroke();
      ctx.restore();
    },
    afterDraw(chart) {
      const { ctx, chartArea: a } = chart;
      const xs = chart.scales.x, ys = chart.scales.y;
      ctx.save();
      ctx.fillStyle = '#000';

      // tick labels
      ctx.font = tickFont;
      ctx.textAlign = 'center';
      ctx.textBaseline = 'middle';
      cfg.labels.forEach(v => ctx.fillText(String(v), xs.getPixelForValue(v), a.bottom + 27));
      if (cfg.yLabels) {
        ctx.textAlign = 'right';
        massTicks.forEach(v => ctx.fillText(v.toFixed(1), a.left - 18, ys.getPixelForValue(v) - 1));
      }

      // axis titles
      ctx.font = '48px ' + textFont;
      ctx.textAlign = 'center';
      ctx.textBaseline = 'alphabetic';
      ctx.fillText(cfg.title, cfg.titleX, cfg.titleY);
      if (cfg.yLabels) {
        ctx.save();
        ctx.translate(61, 438);
        ctx.rotate(-Math.PI / 2);
        ctx.font = '58px ' + textFont;
        ctx.fillText('log   stellar mass', 0, 0);
        ctx.restore();
      }

      // legend box
      if (cfg.legend) {
        const L = a.left + 21.4, T = a.top + 546, R = a.left + 308.4, B = a.top + 822, r = 9;
        ctx.beginPath();
        ctx.moveTo(L + r, T);
        ctx.arcTo(R, T, R, B, r);
        ctx.arcTo(R, B, L, B, r);
        ctx.arcTo(L, B, L, T, r);
        ctx.arcTo(L, T, R, T, r);
        ctx.closePath();
        ctx.fillStyle = '#fff';
        ctx.fill();
        ctx.strokeStyle = '#000';
        ctx.lineWidth = 2.5;
        ctx.stroke();

        const mx = L + 58.5;
        const rows = [[colours.old, 606, 621], [colours.blue, 666, 685], [colours.dusty, 735, 750]];
        ctx.font = '33px ' + textFont;
        ctx.textAlign = 'left';
        rows.forEach((row, i) => {
          dot(ctx, mx, row[1], 9.5, row[0], 1.2);
          ctx.fillStyle = '#000';
          ctx.fillText(legendLabels[i], L + 139, row[2]);
        });
        dot(ctx, mx, 804, 3.4, colours.faint, 0);
        ctx.fillStyle = '#000';
        ctx.font = '42px ' + textFont;
        ctx.fillText('<', L + 96, 823);
        ctx.fillText('M', L + 134, 823);
        const mw = ctx.measureText('M').width;
        ctx.font = '28px ' + textFont;
        ctx.fillText('limit', L + 134 + mw + 2, 833);
      }
      ctx.restore();
    }
  };
}

const commonOptions = (pad, xMin, xMax) => ({
  responsive: false,
  animation: false,
  events: [],
  layout: { padding: pad },
  plugins: { legend: { display: false }, tooltip: { enabled: false } },
  scales: {
    x: { type: 'linear', display: false, min: xMin, max: xMax },
    y: { type: 'linear', display: false, min: 9.0, max: 11.5 }
  }
});

const chartR = new Chart(document.getElementById('rband'), {
  type: 'scatter',
  data: {
    datasets: [
      bigSet(blueR, colours.blue),
      bigSet(dustyR, colours.dusty),
      bigSet(oldR, colours.old),
      faintSet(faintR.concat(faintRLimits))
    ]
  },
  options: commonOptions({ left: 163.7, right: 1795 - 982.3, top: 25.2, bottom: 983 - 866.6 }, 22, 30),
  plugins: [makePanel({
    name: 'R', band: true, legend: false, yLabels: true,
    xLo: 22, xHi: 30, minor: 0.2, major: 1, labels: rTicks,
    title: 'Total R-band AB mag.', titleX: 561.5, titleY: 968,
    groups: [oldR, dustyR, blueR], faintLimits: faintRLimits
  })]
});

const chartK = new Chart(document.getElementById('kband'), {
  type: 'scatter',
  data: {
    datasets: [
      bigSet(blueK, colours.blue),
      bigSet(dustyK, colours.dusty),
      bigSet(oldK, colours.old),
      faintSet(faintK)
    ]
  },
  options: commonOptions({ left: 982.3, right: 1830 - 1806.6, top: 25.2, bottom: 983 - 866.6 }, 21.1, 25.5),
  plugins: [makePanel({
    name: 'K', band: false, legend: true, yLabels: false,
    xLo: 21.1, xHi: 25.5, minor: 0.1, major: 0.5, labels: kTicks,
    title: 'Total K-band AB mag.', titleX: 1391.5, titleY: 972,
    groups: [oldK, dustyK, blueK], faintLimits: []
  })]
});
</script>
</body>
</html>
